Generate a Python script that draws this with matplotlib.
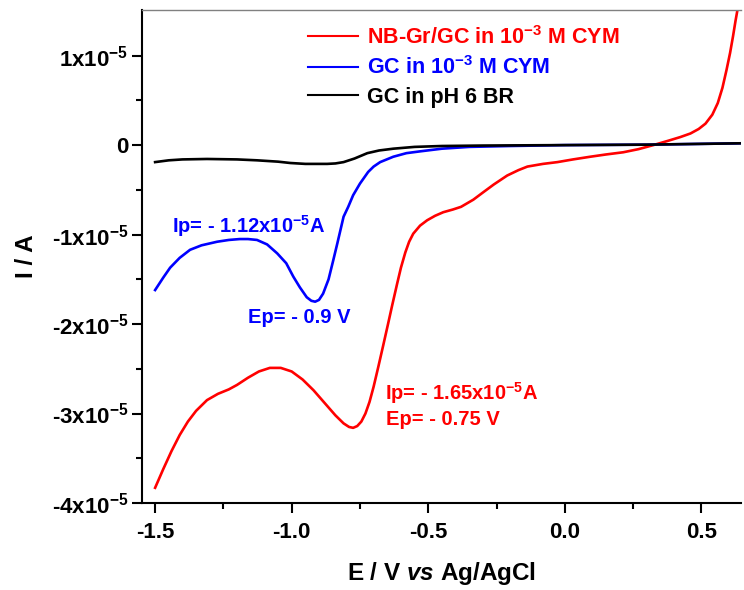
import numpy as np
import matplotlib
matplotlib.use("Agg")
import matplotlib.pyplot as plt
from matplotlib.ticker import MultipleLocator, FixedLocator, FixedFormatter, FormatStrFormatter

plt.rcParams['font.family'] = ['Liberation Sans', 'DejaVu Sans']
plt.rcParams['font.weight'] = 'bold'
plt.rcParams['mathtext.fontset'] = 'custom'
plt.rcParams['mathtext.rm'] = 'Liberation Sans:bold'
plt.rcParams['mathtext.bf'] = 'Liberation Sans:bold'
plt.rcParams['mathtext.it'] = 'Liberation Sans:bold:italic'
plt.rcParams['mathtext.default'] = 'bf'

# potentials (V vs Ag/AgCl) and currents (in units of 1e-5 A)
e_nbgr = [-1.50, -1.47, -1.44, -1.41, -1.38, -1.35, -1.31, -1.27, -1.23, -1.20,
          -1.16, -1.12, -1.08, -1.04, -1.00, -0.96, -0.92, -0.88, -0.84, -0.81,
          -0.79, -0.775, -0.76, -0.745, -0.73, -0.715, -0.70, -0.683, -0.665, -0.648,
          -0.632, -0.614, -0.60, -0.584, -0.57, -0.555, -0.53, -0.504, -0.475,
          -0.445, -0.41, -0.38, -0.335, -0.30, -0.26, -0.211, -0.17, -0.137,
          -0.08, -0.027, 0.03, 0.093, 0.15, 0.214, 0.27, 0.324, 0.38, 0.423,
          0.46, 0.49, 0.515, 0.54, 0.56, 0.577, 0.592, 0.605, 0.616, 0.625,
          0.632, 0.64]
i_nbgr = [-3.83, -3.62, -3.42, -3.24, -3.09, -2.97, -2.85, -2.78, -2.73, -2.68,
          -2.60, -2.53, -2.49, -2.49, -2.53, -2.62, -2.74, -2.88, -3.02, -3.11,
          -3.15, -3.16, -3.14, -3.09, -3.00, -2.87, -2.70, -2.48, -2.24, -2.01,
          -1.79, -1.55, -1.37, -1.20, -1.08, -0.99, -0.90, -0.84, -0.79,
          -0.75, -0.72, -0.69, -0.61, -0.53, -0.44, -0.34, -0.28, -0.24,
          -0.21, -0.19, -0.16, -0.13, -0.105, -0.08, -0.045, 0.0, 0.05, 0.09,
          0.13, 0.18, 0.24, 0.34, 0.47, 0.64, 0.84, 1.03, 1.22, 1.39,
          1.51, 1.65]

e_gc = [-1.50, -1.47, -1.445, -1.41, -1.372, -1.33, -1.273, -1.23, -1.19, -1.16,
        -1.127, -1.09, -1.053, -1.02, -0.994, -0.97, -0.945, -0.928, -0.914,
        -0.90, -0.885, -0.865, -0.848, -0.833, -0.81, -0.793, -0.775, -0.75,
        -0.72, -0.70, -0.676, -0.628, -0.58, -0.53, -0.45, -0.35, -0.20, 0.0,
        0.30, 0.64]
i_gc = [-1.62, -1.48, -1.37, -1.26, -1.17, -1.12, -1.08, -1.06, -1.05, -1.05,
        -1.06, -1.11, -1.21, -1.32, -1.47, -1.59, -1.70, -1.74, -1.75,
        -1.73, -1.66, -1.50, -1.29, -1.10, -0.80, -0.69, -0.56, -0.43,
        -0.30, -0.24, -0.19, -0.13, -0.09, -0.07, -0.04, -0.02, -0.01, 0.0,
        0.005, 0.02]

e_blank = [-1.50, -1.45, -1.40, -1.31, -1.20, -1.127, -1.05, -1.005, -0.95, -0.87,
           -0.84, -0.81, -0.77, -0.723, -0.68, -0.628, -0.55, -0.45, -0.30, 0.0,
           0.30, 0.64]
i_blank = [-0.19, -0.17, -0.16, -0.155, -0.16, -0.17, -0.185, -0.20, -0.21, -0.21,
           -0.205, -0.19, -0.15, -0.09, -0.06, -0.04, -0.02, -0.01, -0.005, 0.0,
           0.005, 0.02]

labels = [r'NB-Gr/GC in 10$^{-3}$ M CYM', r'GC in 10$^{-3}$ M CYM', 'GC in pH 6 BR']
colors = ['#ff0000', '#0000ff', '#000000']

ytick_vals = [-4, -3, -2, -1, 0, 1]
ytick_labels = [r'-4x10$^{-5}$', r'-3x10$^{-5}$', r'-2x10$^{-5}$', r'-1x10$^{-5}$',
                '0', r'1x10$^{-5}$']

fig = plt.figure(figsize=(7.44, 5.90), dpi=100)
ax = fig.add_axes([142 / 744, 87 / 590, 599 / 744, 493 / 590])

scale = 1e-5
ax.plot(e_nbgr, np.array(i_nbgr) * scale, color=colors[0], lw=1.9, label=labels[0])
ax.plot(e_gc, np.array(i_gc) * scale, color=colors[1], lw=1.9, label=labels[1])
ax.plot(e_blank, np.array(i_blank) * scale, color=colors[2], lw=1.9, label=labels[2])

ax.set_xlim(-1.548, 0.645)
ax.set_ylim(-4e-5, 1.51e-5)

ax.xaxis.set_major_locator(MultipleLocator(0.5))
ax.xaxis.set_minor_locator(MultipleLocator(0.25))
ax.xaxis.set_major_formatter(FormatStrFormatter('%.1f'))
ax.yaxis.set_major_locator(FixedLocator([v * scale for v in ytick_vals]))
ax.yaxis.set_major_formatter(FixedFormatter(ytick_labels))
ax.yaxis.set_minor_locator(FixedLocator([(v + 0.5) * scale for v in ytick_vals[:-1]]))

ax.tick_params(which='both', direction='out', width=1.5, top=False, right=False,
               labelsize=16)
ax.tick_params(axis='x', which='major', length=7, pad=7)
ax.tick_params(axis='y', which='major', length=7, pad=3)
ax.tick_params(which='minor', length=4.5)

for side in ['left', 'bottom']:
    ax.spines[side].set_linewidth(1.5)
ax.spines['top'].set_color('#808080')
ax.spines['top'].set_linewidth(1.0)
ax.spines['right'].set_visible(False)

ax.set_xlabel(r'E / V $\mathit{vs}$ Ag/AgCl', fontsize=17.5, fontweight='bold', labelpad=12)
ax.set_ylabel('I / A', fontsize=17.5, fontweight='bold', labelpad=10)

# peak annotations
ax.text(-1.438, -0.905e-5, r'Ip= - 1.12x10$^{-5}$A', color=colors[1], fontsize=14.5,
        fontweight='bold', va='center', ha='left')
ax.text(-1.16, -1.93e-5, 'Ep= - 0.9 V', color=colors[1], fontsize=14.5,
        fontweight='bold', va='center', ha='left')
ax.text(-0.658, -2.77e-5, r'Ip= - 1.65x10$^{-5}$A', color=colors[0], fontsize=14.5,
        fontweight='bold', va='center', ha='left')
ax.text(-0.654, -3.07e-5, 'Ep= - 0.75 V', color=colors[0], fontsize=14.5,
        fontweight='bold', va='center', ha='left')

leg = ax.legend(loc='upper left', bbox_to_anchor=(308 / 744, 1 - 26 / 590),
                bbox_transform=fig.transFigure, frameon=False, fontsize=15.5,
                handlelength=2.3, handletextpad=0.45, labelspacing=0.35,
                labelcolor='linecolor', borderaxespad=0, borderpad=0)
for t in leg.get_texts():
    t.set_fontweight('bold')
for h in leg.get_lines():
    h.set_linewidth(1.5)

fig.savefig('out.png', dpi=100)
